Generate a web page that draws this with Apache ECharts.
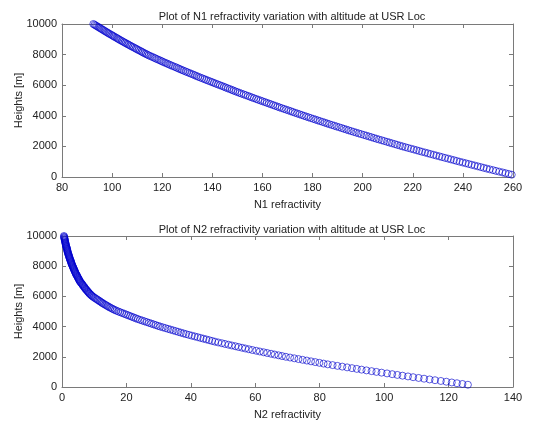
<!DOCTYPE html>
<html>
<head>
<meta charset="utf-8">
<title>N1 / N2 refractivity</title>
<script src="https://cdn.jsdelivr.net/npm/echarts@6/dist/echarts.min.js"></script>
<style>
  html, body { margin: 0; padding: 0; background: #ffffff; }
  #chart { width: 537px; height: 421px; }
</style>
</head>
<body>
<div id="chart"></div>
<script>
  // heights [m], 50 m steps
  var heights = [
    150, 200, 250, 300, 350, 400, 450, 500,
    550, 600, 650, 700, 750, 800, 850, 900, 950, 1000,
    1050, 1100, 1150, 1200, 1250, 1300, 1350, 1400, 1450, 1500,
    1550, 1600, 1650, 1700, 1750, 1800, 1850, 1900, 1950, 2000,
    2050, 2100, 2150, 2200, 2250, 2300, 2350, 2400, 2450, 2500,
    2550, 2600, 2650, 2700, 2750, 2800, 2850, 2900, 2950, 3000,
    3050, 3100, 3150, 3200, 3250, 3300, 3350, 3400, 3450, 3500,
    3550, 3600, 3650, 3700, 3750, 3800, 3850, 3900, 3950, 4000,
    4050, 4100, 4150, 4200, 4250, 4300, 4350, 4400, 4450, 4500,
    4550, 4600, 4650, 4700, 4750, 4800, 4850, 4900, 4950, 5000,
    5050, 5100, 5150, 5200, 5250, 5300, 5350, 5400, 5450, 5500,
    5550, 5600, 5650, 5700, 5750, 5800, 5850, 5900, 5950, 6000,
    6050, 6100, 6150, 6200, 6250, 6300, 6350, 6400, 6450, 6500,
    6550, 6600, 6650, 6700, 6750, 6800, 6850, 6900, 6950, 7000,
    7050, 7100, 7150, 7200, 7250, 7300, 7350, 7400, 7450, 7500,
    7550, 7600, 7650, 7700, 7750, 7800, 7850, 7900, 7950, 8000,
    8050, 8100, 8150, 8200, 8250, 8300, 8350, 8400, 8450, 8500,
    8550, 8600, 8650, 8700, 8750, 8800, 8850, 8900, 8950, 9000,
    9050, 9100, 9150, 9200, 9250, 9300, 9350, 9400, 9450, 9500,
    9550, 9600, 9650, 9700, 9750, 9800, 9850, 9900, 9950, 10000
  ];

  // N1 (dry) refractivity at each height
  var n1 = [
    259.5, 258.3, 257.0, 255.8, 254.5, 253.2, 252.0, 250.7,
    249.5, 248.3, 247.1, 245.9, 244.7, 243.5, 242.3, 241.1, 239.9, 238.7,
    237.5, 236.4, 235.2, 234.1, 232.9, 231.7, 230.6, 229.4, 228.3, 227.1,
    226.0, 224.9, 223.7, 222.6, 221.5, 220.4, 219.3, 218.1, 217.0, 215.9,
    214.9, 213.8, 212.8, 211.7, 210.7, 209.7, 208.6, 207.6, 206.5, 205.5,
    204.5, 203.5, 202.5, 201.5, 200.5, 199.4, 198.4, 197.4, 196.4, 195.4,
    194.4, 193.5, 192.5, 191.6, 190.6, 189.6, 188.7, 187.7, 186.7, 185.8,
    184.9, 184.0, 183.0, 182.1, 181.2, 180.3, 179.3, 178.4, 177.5, 176.6,
    175.7, 174.8, 173.9, 173.0, 172.1, 171.3, 170.4, 169.5, 168.6, 167.7,
    166.8, 166.0, 165.1, 164.3, 163.4, 162.6, 161.7, 160.9, 160.0, 159.2,
    158.3, 157.5, 156.6, 155.8, 155.0, 154.2, 153.3, 152.5, 151.6, 150.8,
    150.0, 149.2, 148.4, 147.7, 146.9, 146.1, 145.3, 144.6, 143.8, 143.0,
    142.2, 141.4, 140.6, 139.9, 139.1, 138.3, 137.5, 136.8, 136.0, 135.2,
    134.4, 133.7, 133.0, 132.3, 131.5, 130.8, 130.0, 129.3, 128.5, 127.8,
    127.1, 126.4, 125.7, 125.0, 124.2, 123.5, 122.8, 122.1, 121.4, 120.7,
    120.0, 119.4, 118.7, 118.0, 117.3, 116.7, 116.0, 115.3, 114.6, 114.0,
    113.4, 112.8, 112.2, 111.7, 111.1, 110.5, 109.9, 109.4, 108.8, 108.2,
    107.6, 107.1, 106.5, 106.0, 105.4, 104.9, 104.3, 103.8, 103.2, 102.7,
    102.2, 101.7, 101.1, 100.6, 100.1, 99.6, 99.0, 98.5, 98.0, 97.5,
    97.0, 96.5, 96.0, 95.5, 95.0, 94.5, 94.0, 93.5, 93.0, 92.5
  ];

  // N2 (wet) refractivity at each height
  var n2 = [
    126.0, 124.3, 122.6, 121.0, 119.3, 117.6, 115.8, 114.1,
    112.4, 110.7, 109.0, 107.4, 105.7, 104.1, 102.5, 100.9, 99.2, 97.6,
    96.1, 94.5, 93.0, 91.5, 90.0, 88.5, 87.0, 85.5, 84.0, 82.5,
    81.2, 79.9, 78.6, 77.3, 76.0, 74.7, 73.4, 72.1, 70.8, 69.5,
    68.3, 67.2, 66.0, 64.9, 63.7, 62.6, 61.4, 60.3, 59.1, 58.0,
    56.9, 55.9, 54.8, 53.8, 52.7, 51.7, 50.6, 49.6, 48.5, 47.5,
    46.6, 45.7, 44.8, 43.9, 43.0, 42.1, 41.2, 40.3, 39.4, 38.5,
    37.7, 36.9, 36.1, 35.3, 34.5, 33.7, 32.9, 32.1, 31.3, 30.5,
    29.8, 29.1, 28.4, 27.7, 27.0, 26.3, 25.6, 24.9, 24.2, 23.5,
    22.9, 22.3, 21.7, 21.1, 20.5, 19.9, 19.3, 18.7, 18.1, 17.5,
    16.9, 16.4, 15.9, 15.5, 15.0, 14.6, 14.2, 13.8, 13.4, 13.0,
    12.6, 12.3, 11.9, 11.6, 11.2, 10.9, 10.5, 10.2, 9.8, 9.5,
    9.2, 9.0, 8.7, 8.5, 8.3, 8.1, 7.9, 7.7, 7.5, 7.3,
    7.1, 7.0, 6.8, 6.6, 6.4, 6.3, 6.1, 5.9, 5.7, 5.6,
    5.4, 5.3, 5.2, 5.1, 4.9, 4.8, 4.7, 4.6, 4.4, 4.3,
    4.2, 4.1, 4.0, 3.9, 3.8, 3.7, 3.6, 3.5, 3.4, 3.3,
    3.2, 3.1, 3.0, 2.9, 2.85, 2.8, 2.7, 2.6, 2.5, 2.4,
    2.35, 2.3, 2.2, 2.1, 2.05, 2.0, 1.9, 1.8, 1.75, 1.7,
    1.65, 1.6, 1.55, 1.5, 1.4, 1.3, 1.25, 1.2, 1.15, 1.1,
    1.05, 1.0, 0.95, 0.9, 0.85, 0.8, 0.75, 0.7, 0.65, 0.6
  ];

  var titles = [
    'Plot of N1 refractivity variation with altitude at USR Loc',
    'Plot of N2 refractivity variation with altitude at USR Loc'
  ];
  var xNames = ['N1 refractivity', 'N2 refractivity'];
  var yName = 'Heights [m]';
  var xRanges = [[80, 260], [0, 140]];
  var yRange = [0, 10000];

  var font = '"Liberation Sans", Arial, sans-serif';
  var lineColor = '#7a7a7a';
  var textColor = '#222';

  function pairs(xs) {
    return xs.map(function (v, i) { return [v, heights[i]]; });
  }

  // one visible axis + one mirrored axis (box with ticks on all sides)
  function axis(grid, pos, min, max, interval, withLabels, name) {
    var a = {
      type: 'value',
      gridIndex: grid,
      position: pos,
      min: min,
      max: max,
      interval: interval,
      axisLine: {show: true, onZero: false, lineStyle: {color: lineColor, width: 1}},
      axisTick: {show: true, inside: true, length: 4, lineStyle: {color: lineColor}},
      splitLine: {show: false},
      axisLabel: {
        show: withLabels, color: textColor, fontSize: 11, fontFamily: font, margin: 5,
        formatter: function (v) { return String(v); }   // no thousands separator
      }
    };
    if (name) {
      a.name = name;
      a.nameLocation = 'middle';
      a.nameTextStyle = {color: textColor, fontSize: 11, fontFamily: font};
    }
    return a;
  }

  var xAxes = [], yAxes = [];
  [0, 1].forEach(function (g) {
    var xa = axis(g, 'bottom', xRanges[g][0], xRanges[g][1], 20, true, xNames[g]);
    xa.nameGap = 22;
    xAxes.push(xa);
    xAxes.push(axis(g, 'top', xRanges[g][0], xRanges[g][1], 20, false));
    var ya = axis(g, 'left', yRange[0], yRange[1], 2000, true, yName);
    ya.nameGap = 38;
    ya.nameMoveOverlap = false;
    yAxes.push(ya);
    yAxes.push(axis(g, 'right', yRange[0], yRange[1], 2000, false));
  });

  var marker = {
    type: 'scatter',
    symbol: 'circle',
    symbolSize: 7,
    itemStyle: {color: 'rgba(0,0,0,0)', borderColor: '#0000cc', borderWidth: 0.8},
    silent: true,
    animation: false
  };

  var chart = echarts.init(document.getElementById('chart'), null, {renderer: 'canvas'});
  var option = {
    backgroundColor: '#ffffff',
    animation: false,
    title: [
      {text: titles[0], left: 287, top: 6, textAlign: 'center',
        textStyle: {fontSize: 11, fontWeight: 'normal', color: textColor, fontFamily: font}},
      {text: titles[1], left: 287, top: 219, textAlign: 'center',
        textStyle: {fontSize: 11, fontWeight: 'normal', color: textColor, fontFamily: font}}
    ],
    grid: [
      {left: 62, right: 24, top: 24, height: 153},
      {left: 62, right: 24, top: 236, height: 153}
    ],
    xAxis: xAxes,
    yAxis: yAxes,
    series: [
      Object.assign({}, marker, {name: 'N1', xAxisIndex: 0, yAxisIndex: 0, data: pairs(n1)}),
      Object.assign({}, marker, {name: 'N2', xAxisIndex: 2, yAxisIndex: 2, data: pairs(n2)})
    ]
  };
  chart.setOption(option);
</script>
</body>
</html>
